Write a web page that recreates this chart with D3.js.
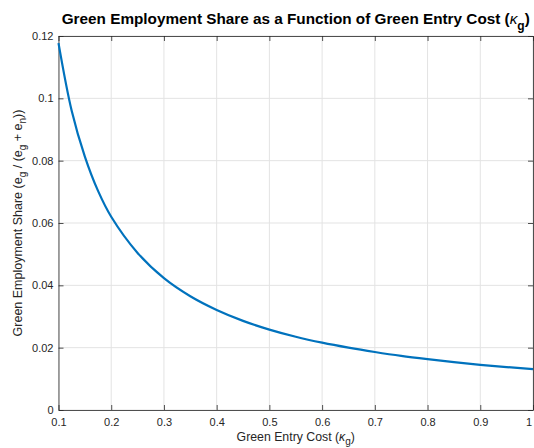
<!DOCTYPE html>
<html>
<head>
<meta charset="utf-8">
<script src="https://cdn.jsdelivr.net/npm/d3@7"></script>
<style>
  html, body { margin: 0; padding: 0; background: #fff; }
  svg { display: block; font-family: "Liberation Sans", Arial, Helvetica, sans-serif; }
</style>
</head>
<body>
<svg id="chart" width="534" height="448"></svg>
<script>
// ---- Data ----
const entryCost = [0.1, 0.125, 0.15, 0.175, 0.2, 0.25, 0.3, 0.35, 0.4, 0.45, 0.5, 0.55, 0.6, 0.65, 0.7, 0.75, 0.8, 0.85, 0.9, 0.95, 1.0];
const greenShare = [0.1177, 0.0960, 0.0813, 0.0703, 0.0620, 0.0504, 0.0423, 0.0365, 0.0321, 0.0286, 0.0258, 0.0235, 0.0216, 0.0200, 0.0186, 0.01735, 0.0163, 0.01535, 0.0145, 0.01377, 0.0131];
const xTicks = [0.1, 0.2, 0.3, 0.4, 0.5, 0.6, 0.7, 0.8, 0.9, 1];
const yTicks = [0, 0.02, 0.04, 0.06, 0.08, 0.1, 0.12];

const svg = d3.select("#chart");
const margin = { left: 58.5, right: 1, top: 36, bottom: 38 };
const W = 534, H = 448;
const x = d3.scaleLinear().domain([0.1, 1]).range([margin.left, W - margin.right]);
const y = d3.scaleLinear().domain([0, 0.12]).range([H - margin.bottom, margin.top]);

const axisColor = "#262626";
const gridColor = "#e3e3e3";

// grid
const g = svg.append("g");
g.selectAll("line.gx").data(xTicks).join("line")
  .attr("x1", d => x(d)).attr("x2", d => x(d))
  .attr("y1", y(0)).attr("y2", y(0.12))
  .attr("stroke", gridColor).attr("stroke-width", 1);
g.selectAll("line.gy").data(yTicks).join("line")
  .attr("y1", d => y(d)).attr("y2", d => y(d))
  .attr("x1", x(0.1)).attr("x2", x(1))
  .attr("stroke", gridColor).attr("stroke-width", 1);

// axes (ticks inside)
const fmtX = d => d === 1 ? "1" : d3.format(".1f")(d);
const fmtY = d => d === 0 ? "0" : String(+d.toFixed(2));

const xAxis = svg.append("g").attr("transform", `translate(0,${y(0)})`)
  .call(d3.axisBottom(x).tickValues(xTicks).tickFormat(fmtX).tickSizeInner(-5).tickSizeOuter(0).tickPadding(8));
const xAxisTop = svg.append("g").attr("transform", `translate(0,${y(0.12)})`)
  .call(d3.axisTop(x).tickValues(xTicks).tickFormat("").tickSizeInner(-5).tickSizeOuter(0));
const yAxis = svg.append("g").attr("transform", `translate(${x(0.1)},0)`)
  .call(d3.axisLeft(y).tickValues(yTicks).tickFormat(fmtY).tickSizeInner(-5).tickSizeOuter(0).tickPadding(5));
const yAxisRight = svg.append("g").attr("transform", `translate(${x(1)},0)`)
  .call(d3.axisRight(y).tickValues(yTicks).tickFormat("").tickSizeInner(-5).tickSizeOuter(0));

[xAxis, xAxisTop, yAxis, yAxisRight].forEach(a => {
  a.selectAll("path").attr("stroke", axisColor).attr("stroke-width", 0.8);
  a.selectAll("line").attr("stroke", axisColor).attr("stroke-width", 0.8);
  a.selectAll("text").attr("fill", axisColor).style("font-size", "11px")
    .style("font-family", "'Liberation Sans', Arial, sans-serif");
});
// keep the last x tick label inside the picture
xAxis.selectAll(".tick text").filter(d => d === 1).attr("text-anchor", "end").attr("dx", -1.5);

// line
const line = d3.line().x((d, i) => x(entryCost[i])).y(d => y(d)).curve(d3.curveCatmullRom.alpha(0.5));
svg.append("path").datum(greenShare)
  .attr("d", line).attr("fill", "none")
  .attr("stroke", "#0072BD").attr("stroke-width", 2.2);

// title
const cx = (x(0.1) + x(1)) / 2;
const title = svg.append("text").attr("x", cx).attr("y", 24)
  .attr("text-anchor", "middle").attr("fill", "#000")
  .style("font-size", "15.3px").style("font-weight", "bold");
title.append("tspan").text("Green Employment Share as a Function of Green Entry Cost (");
title.append("tspan").text("κ").style("font-style", "italic").style("font-weight", "normal");
title.append("tspan").text("g").attr("dy", 6).style("font-size", "12px");
title.append("tspan").text(")").attr("dy", -6);

// x label
const xl = svg.append("text").attr("x", cx).attr("y", 441)
  .attr("text-anchor", "middle").attr("fill", axisColor).style("font-size", "12.3px");
xl.append("tspan").text("Green Entry Cost (");
xl.append("tspan").text("κ").style("font-style", "italic");
xl.append("tspan").text("g").attr("dy", 4).style("font-size", "10px");
xl.append("tspan").text(")").attr("dy", -4);

// y label
const yl = svg.append("text")
  .attr("transform", `translate(22,${(y(0) + y(0.12)) / 2}) rotate(-90)`)
  .attr("text-anchor", "middle").attr("fill", axisColor).style("font-size", "12.5px");
yl.append("tspan").text("Green Employment Share (e");
yl.append("tspan").text("g").attr("dy", 4).style("font-size", "10px");
yl.append("tspan").text(" / (e").attr("dy", -4);
yl.append("tspan").text("g").attr("dy", 4).style("font-size", "10px");
yl.append("tspan").text(" + e").attr("dy", -4);
yl.append("tspan").text("n").attr("dy", 4).style("font-size", "10px");
yl.append("tspan").text("))").attr("dy", -4);
</script>
</body>
</html>
